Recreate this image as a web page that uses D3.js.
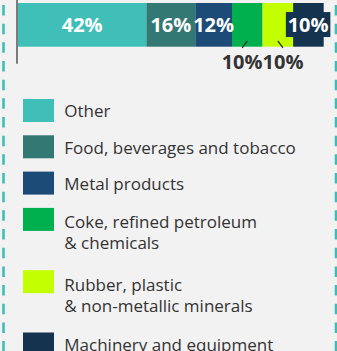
<!DOCTYPE html>
<html><head><meta charset="utf-8">
<script src="https://cdn.jsdelivr.net/npm/d3@7"></script>
<style>
  body { margin: 0; background: #f2f2f2; }
  svg { display: block; }
</style>
</head>
<body>
<svg id="chart" width="337" height="351"></svg>
<script>
// Share of manufacturing, by sector (%)
const categories = [
  "Other",
  "Food, beverages and tobacco",
  "Metal products",
  "Coke, refined petroleum\n& chemicals",
  "Rubber, plastic\n& non-metallic minerals",
  "Machinery and equipment"
];
const values = [42, 16, 12, 10, 10, 10];
const colors = ["#3fbfb7", "#337873", "#1c4b78", "#00b04f", "#c4ff00", "#13334f"];
// how each value label is placed: inside the segment, below it with a leader, or on a backing box
const labelModes = ["inside", "inside", "inside", "below", "below", "boxed"];

const W = 337, H = 351;
const svg = d3.select("#chart");
const FONT = "'Open Sans', 'Noto Sans', sans-serif";

svg.append("rect").attr("width", W).attr("height", H).attr("fill", "#f2f2f2");

// dashed frame edges
const dash = { color: "#3dbfb5", width: 2.6, array: "10.5 8.17", offset: 13.67 };
[3.5, 336].forEach(x => {
  svg.append("line")
    .attr("x1", x).attr("x2", x).attr("y1", 0).attr("y2", H)
    .attr("stroke", dash.color).attr("stroke-width", dash.width)
    .attr("stroke-dasharray", dash.array).attr("stroke-dashoffset", dash.offset);
});

// stacked bar
const x = d3.scaleLinear().domain([0, d3.sum(values)]).range([18, 323.7]);
const barTop = 3, barH = 43.7, barMid = barTop + barH / 2;

const stackData = [];
values.reduce((acc, v, i) => {
  stackData.push({ i, name: categories[i], value: v, x0: acc, x1: acc + v, color: colors[i], mode: labelModes[i] });
  return acc + v;
}, 0);

svg.append("g").selectAll("rect").data(stackData).join("rect")
  .attr("x", d => x(d.x0))
  .attr("y", barTop)
  .attr("width", d => x(d.x1) - x(d.x0))
  .attr("height", barH)
  .attr("fill", d => d.color);

// category axis line at the bar's origin
svg.append("line")
  .attr("x1", 17).attr("x2", 17).attr("y1", 0).attr("y2", 63.7)
  .attr("stroke", "#5e5e5e").attr("stroke-width", 1.6);

const fmt = v => `${v}%`;
const labelSize = 20;
const labels = svg.append("g")
  .style("font-family", FONT).style("font-size", labelSize + "px").style("font-weight", "bold");

// labels inside their segment
labels.selectAll("text.in").data(stackData.filter(d => d.mode === "inside")).join("text")
  .attr("class", "in")
  .attr("x", d => (x(d.x0) + x(d.x1)) / 2)
  .attr("y", barMid + 7.2)
  .attr("text-anchor", "middle")
  .attr("fill", "#ffffff")
  .text(d => fmt(d.value));

// label on a box of the segment colour
stackData.filter(d => d.mode === "boxed").forEach(d => {
  const cx = (x(d.x0) + x(d.x1)) / 2 - 0.3;
  const g = labels.append("g");
  const t = g.append("text")
    .attr("x", cx).attr("y", barMid + 7.2)
    .attr("text-anchor", "middle").attr("fill", "#ffffff")
    .text(fmt(d.value));
  const w = t.node().getComputedTextLength();
  g.insert("rect", "text")
    .attr("x", cx - w / 2 - 1.8).attr("y", barMid - 12.8)
    .attr("width", w + 3.6).attr("height", 25)
    .attr("fill", d.color);
});

// labels below the bar with short leaders, pushed apart so they do not collide
const below = stackData.filter(d => d.mode === "below").map(d => ({ ...d, cx: (x(d.x0) + x(d.x1)) / 2 }));
const belowTexts = labels.selectAll("text.out").data(below).join("text")
  .attr("class", "out")
  .attr("text-anchor", "middle")
  .attr("fill", "#333333")
  .attr("y", 69)
  .text(d => fmt(d.value));
belowTexts.each(function (d) { d.w = this.getComputedTextLength(); });
const mid = d3.mean(below, d => d.cx);
const totalW = d3.sum(below, d => d.w);
let cursor = mid - totalW / 2;
below.forEach(d => { d.lx = cursor + d.w / 2; cursor += d.w; });
belowTexts.attr("x", d => d.lx);

svg.append("g").selectAll("line").data(below).join("line")
  .attr("x1", d => d.cx).attr("y1", 41)
  .attr("x2", d => d.cx + (d.lx - d.cx)).attr("y2", 47.8)
  .attr("stroke", "#333333").attr("stroke-width", 1.3);

// legend
const legend = svg.append("g").style("font-family", FONT).style("font-size", "17px").attr("fill", "#333333");
let ly = 99;
categories.forEach((name, i) => {
  const lines = name.split("\n");
  const g = legend.append("g");
  g.append("rect")
    .attr("x", 23).attr("y", ly).attr("width", 31).attr("height", 23)
    .attr("fill", colors[i]);
  const firstBase = lines.length > 1 ? ly + 20.5 : ly + 18.3;
  const t = g.append("text").attr("x", 64.3).attr("y", firstBase);
  lines.forEach((ln, j) => {
    t.append("tspan").attr("x", 64.3).attr("y", firstBase + j * 21).text(ln);
  });
  ly += 36.3 + (lines.length - 1) * 26;
});
</script>
</body></html>
